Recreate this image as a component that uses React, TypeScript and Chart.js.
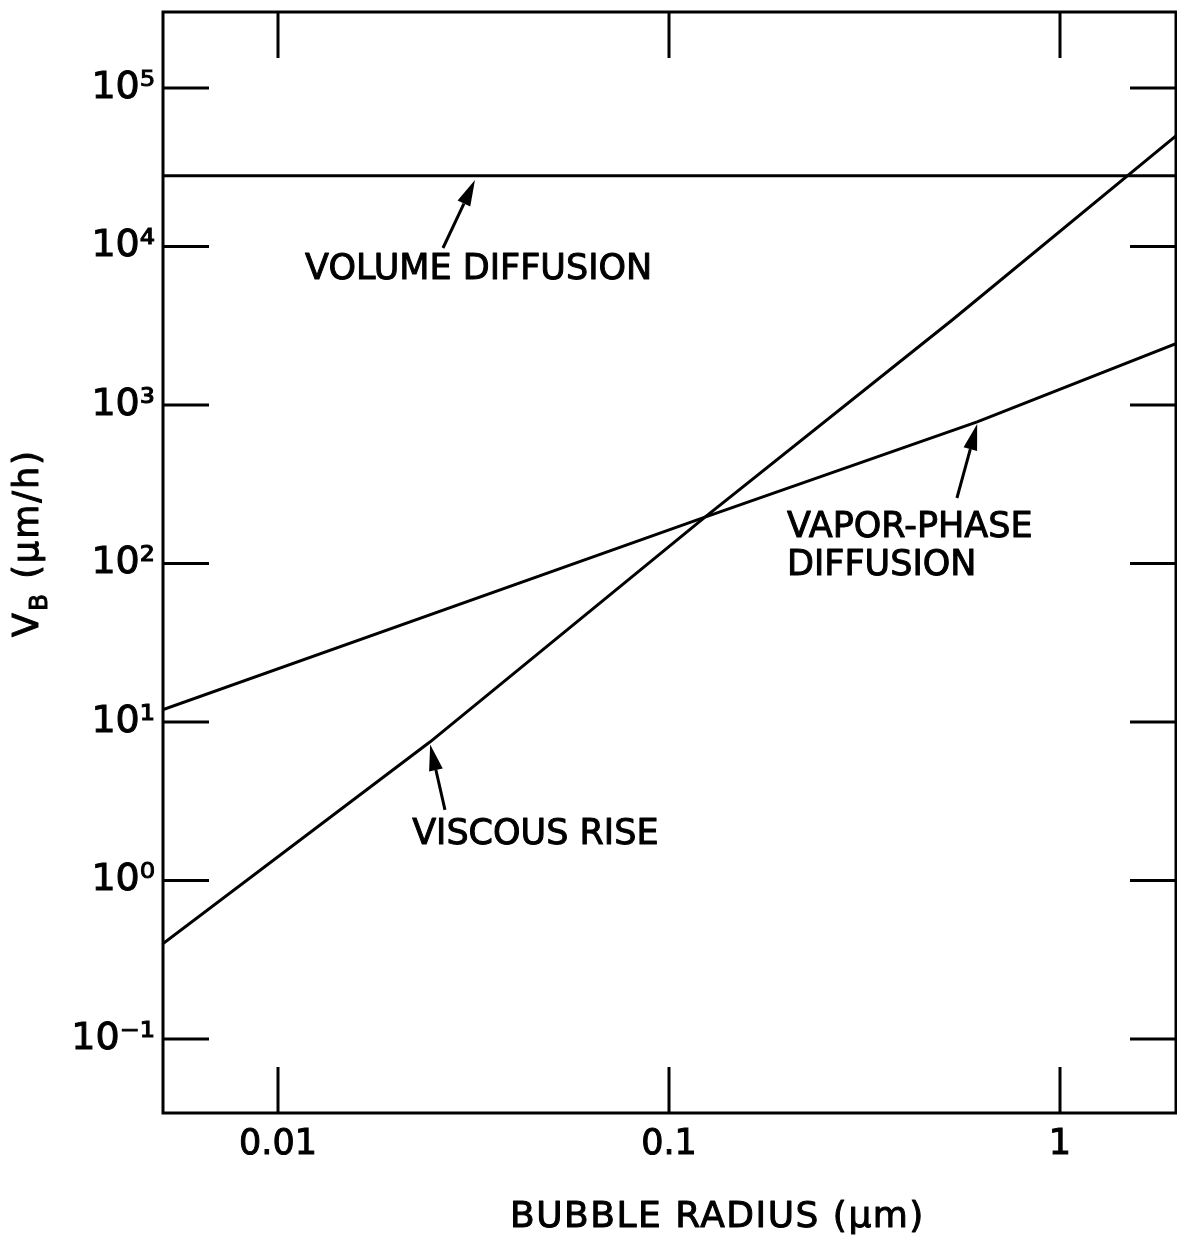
import React, { useEffect, useRef } from "react";
import { Chart, registerables } from "chart.js";

Chart.register(...registerables);

// ---- Axis ticks ----
const radiusTicks = [0.01, 0.1, 1];
const radiusTickLabels = ["0.01", "0.1", "1"];
const velocityTicks = [1e-1, 1e0, 1e1, 1e2, 1e3, 1e4, 1e5];
const velocityTickLabels = ["10⁻¹", "10⁰", "10¹", "10²", "10³", "10⁴", "10⁵"];
const radiusRange = [0.00508, 1.98];
const velocityRange = [0.0341, 3.02e5];

// ---- Series (bubble radius in µm, V_B in µm/h) ----
const volumeDiffusionRadius = [0.00508, 1.98];
const volumeDiffusionVelocity = [2.8e4, 2.8e4];
const viscousRiseRadius = [0.00491, 0.0245, 0.1236, 0.53, 1.99];
const viscousRiseVelocity = [0.375, 7.5, 196, 3440, 50500];
const vaporPhaseRadius = [0.00505, 0.1236, 0.614, 1.99];
const vaporPhaseVelocity = [11.9, 196, 782, 2450];

// ---- Annotations (data coordinates) ----
const annotationLabels = ["VOLUME DIFFUSION", "VAPOR-PHASE", "DIFFUSION", "VISCOUS RISE"];
const annotationRadius = [0.01173, 0.2004, 0.2004, 0.02203];
const annotationVelocity = [7430, 177, 102, 2.05];
const arrowTipRadius = [0.0319, 0.614, 0.0245];
const arrowTipVelocity = [2.63e4, 759, 7.2];
const arrowTailRadius = [0.02642, 0.545, 0.02673];
const arrowTailVelocity = [9790, 259, 2.79];

const xTitle = "BUBBLE RADIUS (µm)";
const yTitleMain = "V";
const yTitleSub = "B";
const yTitleRest = " (µm/h)";

const FONT = "'DejaVu Sans', 'Noto Sans', sans-serif";

function labelFor(ticks: number[], labels: string[], v: number) {
  const i = ticks.findIndex((t) => Math.abs(Math.log10(t) - Math.log10(v)) < 1e-6);
  return i >= 0 ? labels[i] : "";
}

function toPoints(xs: number[], ys: number[]) {
  return xs.map((x, i) => ({ x, y: ys[i] }));
}

function boldText(ctx: CanvasRenderingContext2D, t: string, x: number, y: number) {
  ctx.fillText(t, x, y);
  ctx.strokeText(t, x, y);
}

const decorPlugin = {
  id: "figureDecor",
  afterDatasetsDraw(chart: any) {
    const { ctx, chartArea: a, scales } = chart;
    const xs = scales.x;
    const ys = scales.y;
    ctx.save();
    ctx.strokeStyle = "#000";
    ctx.fillStyle = "#000";
    ctx.lineWidth = 3;
    ctx.lineCap = "butt";

    // frame
    ctx.strokeRect(a.left, a.top, a.right - a.left, a.bottom - a.top);

    // inward tick marks on all four sides
    const tl = 46;
    ctx.beginPath();
    velocityTicks.forEach((v) => {
      const py = ys.getPixelForValue(v);
      ctx.moveTo(a.left, py);
      ctx.lineTo(a.left + tl, py);
      ctx.moveTo(a.right, py);
      ctx.lineTo(a.right - tl, py);
    });
    radiusTicks.forEach((r) => {
      const px = xs.getPixelForValue(r);
      ctx.moveTo(px, a.bottom);
      ctx.lineTo(px, a.bottom - tl);
      ctx.moveTo(px, a.top);
      ctx.lineTo(px, a.top + tl);
    });
    ctx.stroke();

    // arrows
    arrowTipRadius.forEach((_, i) => {
      const x1 = xs.getPixelForValue(arrowTailRadius[i]);
      const y1 = ys.getPixelForValue(arrowTailVelocity[i]);
      const x2 = xs.getPixelForValue(arrowTipRadius[i]);
      const y2 = ys.getPixelForValue(arrowTipVelocity[i]);
      const ang = Math.atan2(y2 - y1, x2 - x1);
      const hl = 26;
      const hw = 7;
      const bx = x2 - hl * Math.cos(ang);
      const by = y2 - hl * Math.sin(ang);
      ctx.beginPath();
      ctx.moveTo(x1, y1);
      ctx.lineTo(bx, by);
      ctx.stroke();
      ctx.beginPath();
      ctx.moveTo(x2, y2);
      ctx.lineTo(bx + hw * Math.sin(ang), by - hw * Math.cos(ang));
      ctx.lineTo(bx - hw * Math.sin(ang), by + hw * Math.cos(ang));
      ctx.closePath();
      ctx.fill();
    });

    // annotation texts
    ctx.lineWidth = 1;
    ctx.lineJoin = "round";
    ctx.font = `35px ${FONT}`;
    ctx.textAlign = "left";
    ctx.textBaseline = "alphabetic";
    annotationLabels.forEach((t, i) => {
      const px = xs.getPixelForValue(annotationRadius[i]);
      const py = ys.getPixelForValue(annotationVelocity[i]);
      boldText(ctx, t, px, py + 12.5);
    });

    // x axis title
    ctx.font = `36px ${FONT}`;
    (ctx as any).letterSpacing = "1.5px";
    boldText(ctx, xTitle, 510, 1227);

    // y axis title (rotated)
    ctx.save();
    ctx.translate(38, 637);
    ctx.rotate(-Math.PI / 2);
    ctx.font = `35px ${FONT}`;
    (ctx as any).letterSpacing = "2px";
    let cx = 0;
    boldText(ctx, yTitleMain, cx, 0);
    cx += ctx.measureText(yTitleMain).width;
    ctx.font = `25px ${FONT}`;
    boldText(ctx, yTitleSub, cx, 9);
    cx += ctx.measureText(yTitleSub).width;
    ctx.font = `35px ${FONT}`;
    boldText(ctx, yTitleRest, cx, 0);
    ctx.restore();

    ctx.restore();
  },
};

export default function App() {
  const canvasRef = useRef<HTMLCanvasElement | null>(null);

  useEffect(() => {
    document.body.style.margin = "0";
    document.body.style.overflow = "hidden";
    const canvas = canvasRef.current;
    if (!canvas) return;
    const lineStyle = {
      borderColor: "#000",
      backgroundColor: "#000",
      borderWidth: 3,
      pointRadius: 0,
      showLine: true,
      tension: 0,
      fill: false,
    };
    const chart = new Chart(canvas, {
      type: "scatter",
      data: {
        datasets: [
          { label: "Volume diffusion", data: toPoints(volumeDiffusionRadius, volumeDiffusionVelocity), ...lineStyle },
          { label: "Viscous rise", data: toPoints(viscousRiseRadius, viscousRiseVelocity), ...lineStyle },
          { label: "Vapor-phase diffusion", data: toPoints(vaporPhaseRadius, vaporPhaseVelocity), ...lineStyle },
        ],
      },
      options: {
        responsive: false,
        animation: false,
        events: [],
        layout: { padding: { top: 12, right: 1, left: 0, bottom: 0 } },
        plugins: {
          legend: { display: false },
          tooltip: { enabled: false },
          title: { display: false },
        },
        scales: {
          x: {
            type: "logarithmic",
            position: "bottom",
            min: radiusRange[0],
            max: radiusRange[1],
            grid: { display: false, drawTicks: false },
            border: { display: false },
            ticks: {
              color: "#000",
              textStrokeColor: "#000",
              textStrokeWidth: 1,
              font: { family: FONT, size: 35 },
              padding: 11,
              autoSkip: false,
              maxRotation: 0,
              callback: (v: any) => labelFor(radiusTicks, radiusTickLabels, Number(v)),
            },
            afterBuildTicks: (s: any) => {
              s.ticks = radiusTicks.map((value) => ({ value }));
            },
            afterFit: (s: any) => {
              s.height = 130;
              s.paddingLeft = 0;
              s.paddingRight = 0;
            },
          },
          y: {
            type: "logarithmic",
            position: "left",
            min: velocityRange[0],
            max: velocityRange[1],
            grid: { display: false, drawTicks: false },
            border: { display: false },
            ticks: {
              color: "#000",
              textStrokeColor: "#000",
              textStrokeWidth: 1,
              font: { family: FONT, size: 38 },
              padding: 8,
              autoSkip: false,
              callback: (v: any) => labelFor(velocityTicks, velocityTickLabels, Number(v)),
            },
            afterBuildTicks: (s: any) => {
              s.ticks = velocityTicks.map((value) => ({ value }));
            },
            afterFit: (s: any) => {
              s.width = 163;
              s.paddingTop = 0;
              s.paddingBottom = 0;
            },
          },
        },
      } as any,
      plugins: [decorPlugin],
    });
    return () => chart.destroy();
  }, []);

  return (
    <div style={{ width: 1177, height: 1243, background: "#fff" }}>
      <canvas ref={canvasRef} width={1177} height={1243} style={{ display: "block" }} />
    </div>
  );
}
